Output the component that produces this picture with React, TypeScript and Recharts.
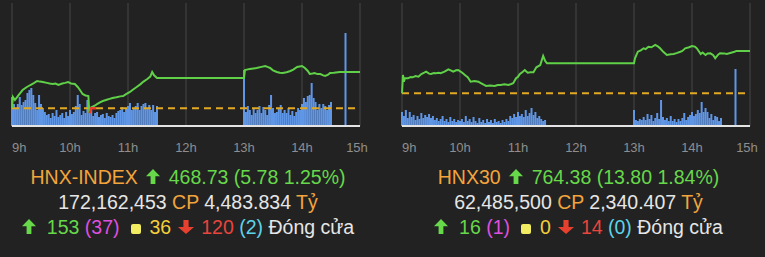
import React from "react";
import {
  Bar,
  CartesianGrid,
  ComposedChart,
  Line,
  ReferenceLine,
  XAxis,
  YAxis,
} from "recharts";

// minutes since 9:00
const hourTicks = [0, 60, 120, 180, 240, 300, 360];

// HNX-INDEX
const hnxRef = 462.95;
const hnxPriceTimes = [0, 1, 3, 7, 11, 15, 19, 23, 26, 29, 32, 36, 39, 42, 45, 48, 52, 55, 58, 61, 65, 68, 71, 73, 76, 79, 80, 81, 83, 86, 88, 91, 94, 98, 101, 104, 108, 112, 115, 118, 122, 125, 129, 133, 136, 140, 143, 145, 147, 150, 240, 241, 244, 246, 250, 253, 258, 262, 265, 267, 270, 274, 277, 280, 284, 288, 291, 295, 300, 303, 306, 308, 311, 313, 316, 319, 322, 324, 327, 329, 333, 339, 360];
const hnxPrices = [463.0, 464.75, 464.27, 465.1, 465.86, 466.3, 466.66, 467.0, 467.3, 467.2, 467.14, 467.0, 466.9, 466.82, 466.9, 466.66, 466.9, 467.0, 467.14, 466.9, 466.82, 466.34, 465.7, 465.23, 465.0, 464.91, 462.2, 463.0, 463.16, 463.4, 463.63, 463.9, 464.11, 464.3, 464.45, 464.59, 464.7, 464.85, 464.91, 465.2, 465.55, 465.9, 466.34, 466.8, 467.2, 467.62, 468.0, 468.73, 468.2, 467.77, 467.77, 469.05, 469.15, 469.21, 469.3, 469.37, 469.55, 469.69, 469.5, 469.37, 469.0, 468.73, 468.6, 468.57, 468.7, 468.89, 469.1, 469.53, 469.69, 469.37, 468.9, 468.41, 468.5, 468.57, 468.4, 468.41, 468.2, 468.09, 468.3, 468.57, 468.6, 468.73, 468.73];
const hnxDownTimes = [80, 81, 82, 87];
const hnxDownPrices = [462.2, 462.4, 462.95, 462.95];
const hnxAmVol = [29, 22, 18, 22, 29, 21, 24, 26, 33, 36, 38, 31, 23, 16, 31, 22, 18, 14, 11, 12, 8, 13, 10, 16, 9, 11, 13, 8, 14, 10, 16, 12, 14, 20, 31, 22, 11, 15, 13, 26, 13, 16, 10, 13, 14, 9, 11, 12, 8, 13, 10, 9, 11, 8, 13, 15, 16, 19, 14, 18, 20, 23, 16, 18, 20, 23, 16, 20, 22, 23, 18, 21, 16, 21, 14, 20];
const hnxPmVol = [56, 14, 20, 16, 11, 18, 13, 16, 20, 13, 19, 16, 11, 21, 31, 18, 13, 14, 18, 21, 13, 16, 13, 18, 11, 15, 10, 14, 18, 16, 22, 28, 24, 30, 31, 43, 28, 24, 16, 22, 18, 22, 20, 16, 21, 24];
const hnxCloseVol = 93;

// HNX30
const hnx30Ref = 750.58;
const hnx30PriceTimes = [0, 1, 2, 3, 6, 9, 11, 14, 17, 20, 23, 25, 28, 30, 33, 35, 38, 40, 44, 48, 51, 53, 56, 58, 61, 63, 66, 68, 71, 75, 79, 82, 85, 87, 91, 96, 99, 102, 106, 110, 113, 115, 118, 120, 122, 125, 127, 130, 133, 136, 139, 143, 146, 148, 150, 240, 241, 244, 247, 250, 252, 255, 258, 262, 265, 267, 270, 274, 278, 281, 284, 288, 290, 293, 297, 300, 303, 305, 309, 311, 314, 316, 319, 322, 324, 327, 329, 333, 336, 344, 346, 360];
const hnx30Prices = [750.58, 756.55, 754.36, 755.47, 755.47, 755.9, 755.8, 756.2, 756.0, 756.88, 757.3, 757.63, 757.0, 756.88, 757.2, 757.11, 757.3, 757.11, 757.63, 758.41, 758.0, 757.63, 758.1, 758.18, 757.6, 757.11, 756.3, 755.8, 754.36, 754.6, 754.36, 753.84, 753.3, 752.96, 753.1, 752.96, 753.3, 753.29, 753.5, 753.29, 753.6, 753.84, 755.5, 756.0, 756.9, 757.63, 758.18, 757.3, 757.43, 757.43, 759.06, 759.81, 762.75, 761.2, 760.37, 760.37, 762.0, 764.15, 764.6, 765.26, 765.0, 765.78, 765.6, 766.34, 765.8, 765.26, 764.2, 763.08, 763.3, 763.4, 763.7, 764.15, 764.4, 765.26, 765.6, 766.01, 765.8, 765.26, 763.4, 763.9, 763.08, 763.6, 763.63, 763.0, 762.0, 763.2, 763.63, 763.6, 763.4, 764.15, 764.4, 764.38];
const hnx30AmVol = [14, 10, 16, 8, 14, 9, 11, 6, 10, 7, 13, 8, 11, 9, 12, 8, 10, 6, 8, 5, 7, 10, 5, 7, 4, 9, 5, 7, 4, 6, 5, 7, 4, 10, 5, 7, 4, 9, 5, 3, 8, 4, 6, 3, 7, 4, 6, 3, 7, 4, 5, 3, 6, 4, 7, 5, 10, 8, 12, 9, 14, 10, 12, 9, 16, 10, 13, 18, 11, 14, 8, 10, 7, 5, 6];
const hnx30PmVol = [16, 6, 5, 7, 6, 9, 6, 12, 7, 11, 5, 8, 13, 7, 26, 9, 6, 8, 5, 10, 5, 7, 4, 7, 5, 8, 13, 6, 9, 11, 14, 10, 12, 16, 13, 24, 14, 18, 14, 8, 12, 6, 10, 9, 5, 8];
const hnx30CloseVol = 57;

const FONT = '"Liberation Sans", Arial, Helvetica, sans-serif';
const GREEN = "#66d84a";
const ORANGE = "#f3a53c";
const WHITE = "#e6e6e6";
const BLUE = "#6096e6";

type Row = { t: number; price?: number; down?: number; vol?: number };

function buildRows(
  priceT: number[],
  priceV: number[],
  downT: number[],
  downV: number[],
  amVol: number[],
  pmVol: number[],
  closeVol: number
) {
  const map = new Map<number, Row>();
  const row = (t: number) => {
    if (!map.has(t)) map.set(t, { t });
    return map.get(t)!;
  };
  priceT.forEach((t, i) => (row(t).price = priceV[i]));
  downT.forEach((t, i) => (row(t).down = downV[i]));
  amVol.forEach((v, i) => (row(i * 2).vol = v));
  pmVol.forEach((v, i) => (row(240 + i * 2).vol = v));
  row(345).vol = closeVol;
  return [...map.values()].sort((a, b) => a.t - b.t);
}

function HourTick(props: any) {
  const { x, y, payload, index } = props;
  const anchor = index === 0 ? "start" : "middle";
  const dx = index === hourTicks.length - 1 ? -3 : 0;
  return (
    <text
      x={x + dx}
      y={y}
      dy="0.71em"
      textAnchor={anchor}
      fill="#8e8e8e"
      fontSize={13}
      fontFamily={FONT}
    >
      {`${9 + payload.value / 60}h`}
    </text>
  );
}

// the band width of a 1-minute axis is too thin, so draw each bar 2px wide
function VolBar(props: any) {
  const { x, y, width, height } = props;
  if (!height || height <= 0) return null;
  return <rect x={x + width / 2 - 1} y={y} width={2} height={height} fill={BLUE} />;
}

function IntradayChart({
  rows,
  refPrice,
  domain,
  width,
}: {
  rows: Row[];
  refPrice: number;
  domain: [number, number];
  width: number;
}) {
  return (
    <ComposedChart
      width={width}
      height={160}
      data={rows}
      margin={{ top: 3, right: width - 360, bottom: 4, left: 12 }}
    >
      <CartesianGrid vertical horizontal={false} stroke="#474747" />
      <XAxis
        dataKey="t"
        type="number"
        domain={[0, 360]}
        ticks={hourTicks}
        interval={0}
        height={30}
        tickLine={false}
        tickSize={0}
        tickMargin={17}
        axisLine={{ stroke: "#e4e4e4", strokeWidth: 2 }}
        tick={<HourTick />}
      />
      <YAxis yAxisId="price" hide domain={domain} allowDataOverflow />
      <YAxis yAxisId="vol" hide domain={[0, 123]} allowDataOverflow />
      <Bar
        yAxisId="vol"
        dataKey="vol"
        fill={BLUE}
        shape={<VolBar />}
        isAnimationActive={false}
      />
      <ReferenceLine
        yAxisId="price"
        y={refPrice}
        stroke="#e2a922"
        strokeWidth={2}
        strokeDasharray="7 5"
      />
      <Line
        yAxisId="price"
        dataKey="price"
        type="linear"
        stroke="#5fd047"
        strokeWidth={2}
        dot={false}
        connectNulls
        isAnimationActive={false}
      />
      <Line
        yAxisId="price"
        dataKey="down"
        type="linear"
        stroke="#ef3b2f"
        strokeWidth={2.5}
        dot={false}
        connectNulls
        isAnimationActive={false}
      />
    </ComposedChart>
  );
}

function UpArrow({ ml = 0, mr = 0 }: { ml?: number; mr?: number }) {
  return (
    <svg
      width={14}
      height={15}
      viewBox="0 0 14 15"
      style={{ marginLeft: ml, marginRight: mr }}
    >
      <polygon points="7,0 14,7.3 9.4,7.3 9.4,15 4.6,15 4.6,7.3 0,7.3" fill={GREEN} />
    </svg>
  );
}

function DownArrow({ ml = 0, mr = 0 }: { ml?: number; mr?: number }) {
  return (
    <svg
      width={16}
      height={14}
      viewBox="0 0 16 14"
      style={{ marginLeft: ml, marginRight: mr }}
    >
      <polygon points="8,14 0,7 5.4,7 5.4,0 10.6,0 10.6,7 16,7" fill="#e8402f" />
    </svg>
  );
}

function Square({ ml, mr }: { ml: number; mr: number }) {
  return (
    <span
      style={{
        display: "inline-block",
        width: 10,
        height: 10,
        borderRadius: 2,
        background: "#f2ec62",
        marginLeft: ml,
        marginRight: mr,
      }}
    />
  );
}

function Summary({
  left,
  width,
  name,
  price,
  change,
  pct,
  volume,
  value,
  up,
  ceil,
  same,
  down,
  floor,
}: {
  left: number;
  width: number;
  name: string;
  price: string;
  change: string;
  pct: string;
  volume: string;
  value: string;
  up: string;
  ceil: string;
  same: string;
  down: string;
  floor: string;
}) {
  const line = (top: number): React.CSSProperties => ({
    position: "absolute",
    top,
    left: 0,
    width,
    textAlign: "center",
    whiteSpace: "nowrap",
    lineHeight: "24px",
  });
  return (
    <div
      style={{
        position: "absolute",
        left,
        top: 0,
        width,
        height: 257,
        fontFamily: FONT,
        fontSize: 19.5,
      }}
    >
      <div style={line(165)}>
        <span style={{ color: ORANGE }}>{name}</span>
        <UpArrow ml={8} mr={9} />
        <span style={{ color: GREEN }}>{`${price} (${change} ${pct})`}</span>
      </div>
      <div style={line(189.5)}>
        <span style={{ color: WHITE }}>{volume}</span>{" "}
        <span style={{ color: ORANGE }}>CP</span>{" "}
        <span style={{ color: WHITE }}>{value}</span>{" "}
        <span style={{ color: ORANGE }}>Tỷ</span>
      </div>
      <div style={line(214.5)}>
        <UpArrow mr={11} />
        <span style={{ color: GREEN }}>{up}</span>{" "}
        <span style={{ color: "#df4fdf" }}>{`(${ceil})`}</span>
        <Square ml={11} mr={9} />
        <span style={{ color: "#f3cf3c" }}>{same}</span>
        <DownArrow ml={7} mr={7} />
        <span style={{ color: "#e8453c" }}>{down}</span>{" "}
        <span style={{ color: "#5dd3e8" }}>{`(${floor})`}</span>{" "}
        <span style={{ color: WHITE }}>Đóng cửa</span>
      </div>
    </div>
  );
}

export default function App() {
  const hnxRows = buildRows(hnxPriceTimes, hnxPrices, hnxDownTimes, hnxDownPrices, hnxAmVol, hnxPmVol, hnxCloseVol);
  const hnx30Rows = buildRows(hnx30PriceTimes, hnx30Prices, [], [], hnx30AmVol, hnx30PmVol, hnx30CloseVol);
  return (
    <div
      style={{
        position: "fixed",
        left: 0,
        top: 0,
        width: 765,
        height: 257,
        background: "#222222",
        overflow: "hidden",
      }}
    >
      <div style={{ position: "absolute", left: 0, top: 0 }}>
        <IntradayChart rows={hnxRows} refPrice={hnxRef} domain={[460.13, 479.72]} width={380} />
      </div>
      <div style={{ position: "absolute", left: 390, top: 0 }}>
        <IntradayChart rows={hnx30Rows} refPrice={hnx30Ref} domain={[739.91, 780.04]} width={375} />
      </div>
      <Summary
        left={0}
        width={376}
        name="HNX-INDEX"
        price="468.73"
        change="5.78"
        pct="1.25%"
        volume="172,162,453"
        value="4,483.834"
        up="153"
        ceil="37"
        same="36"
        down="120"
        floor="2"
      />
      <Summary
        left={390}
        width={377}
        name="HNX30"
        price="764.38"
        change="13.80"
        pct="1.84%"
        volume="62,485,500"
        value="2,340.407"
        up="16"
        ceil="1"
        same="0"
        down="14"
        floor="0"
      />
    </div>
  );
}
